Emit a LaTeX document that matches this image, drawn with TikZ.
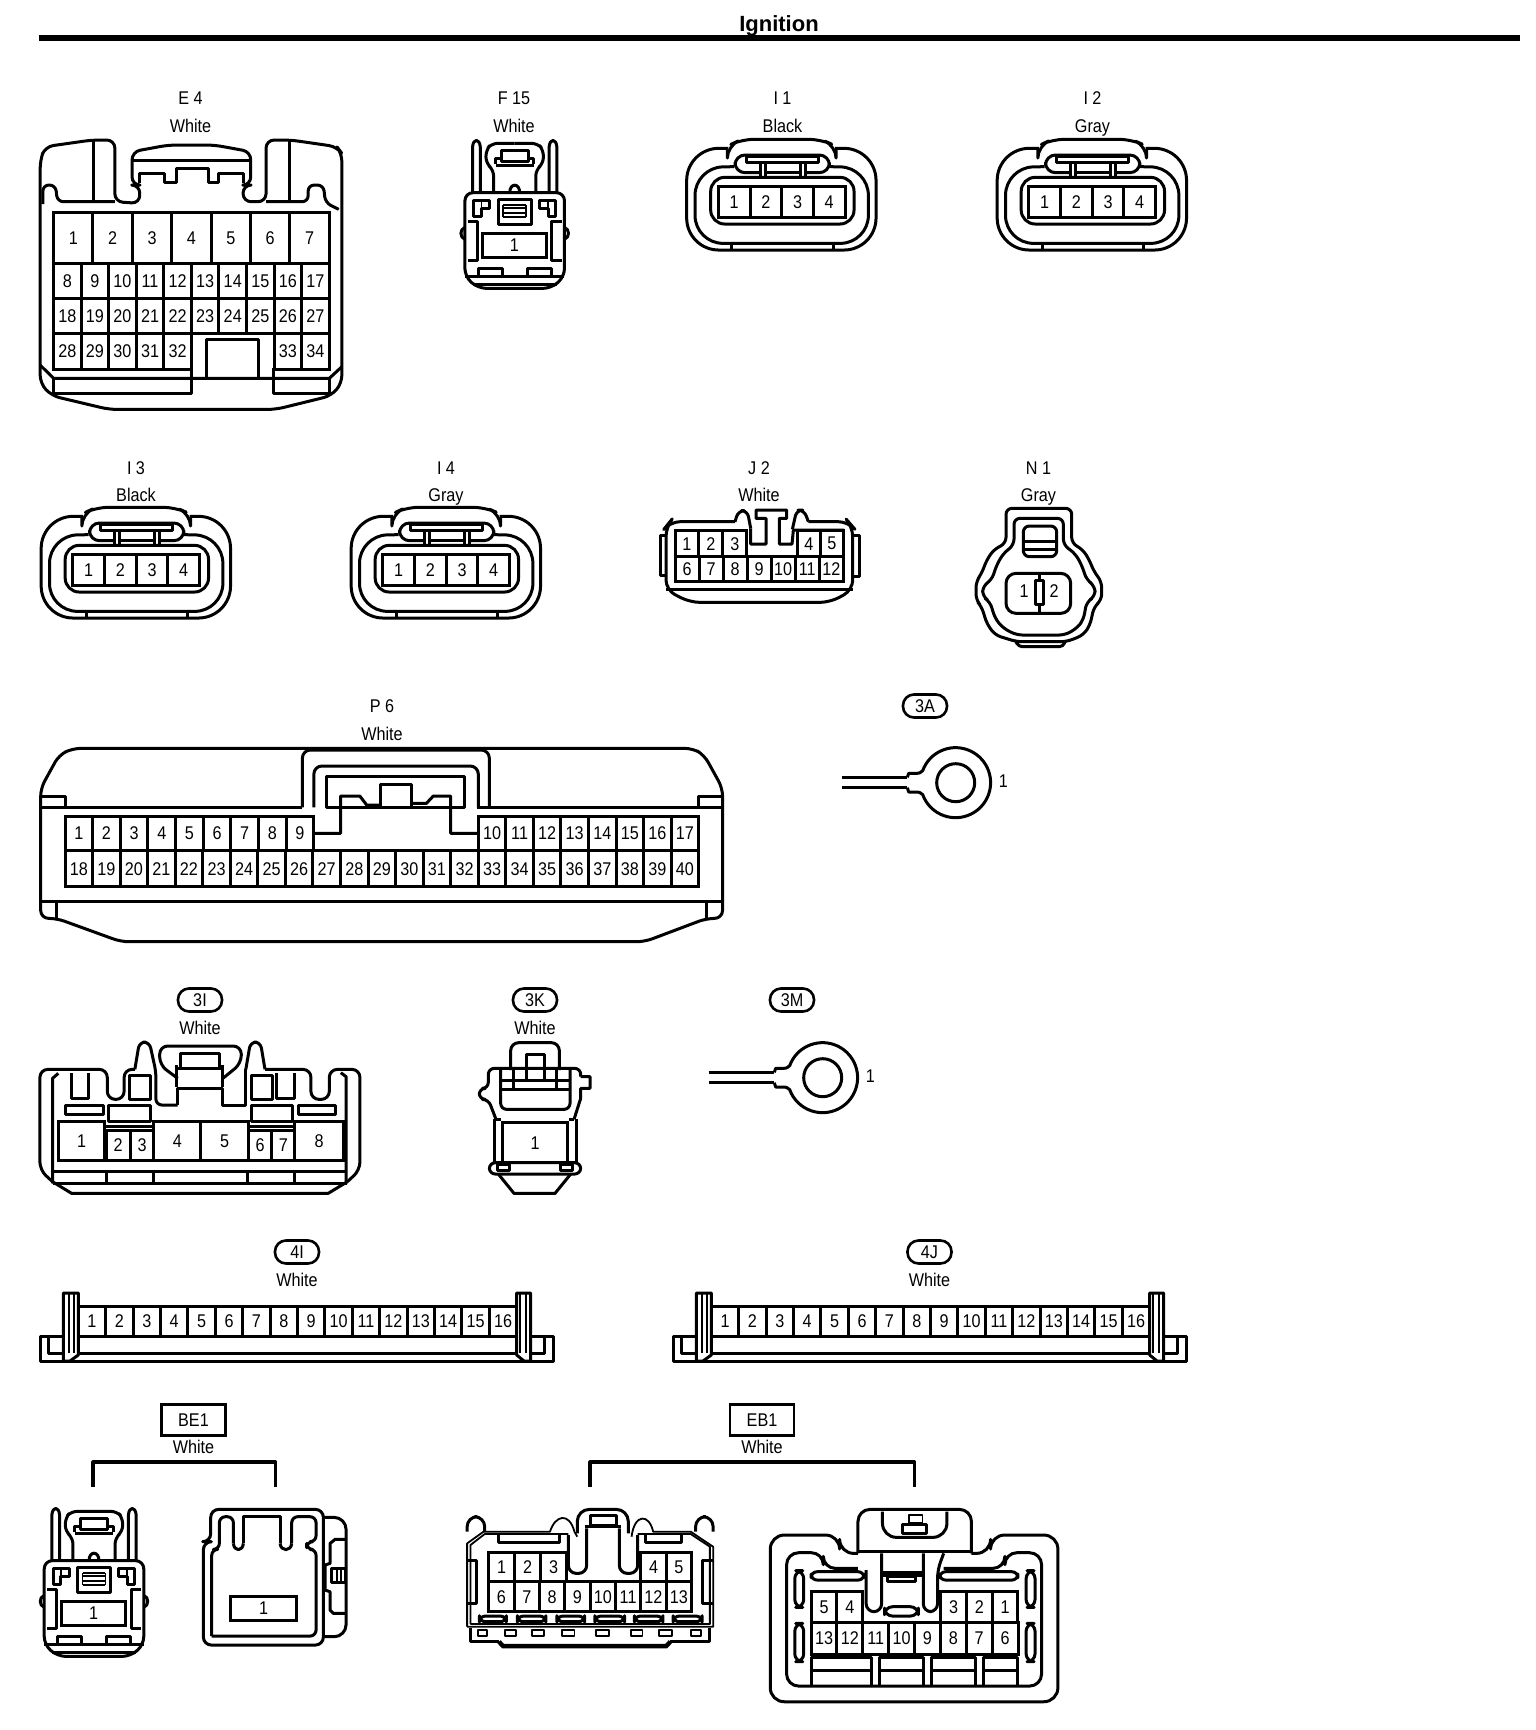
\documentclass[tikz,border=0pt]{standalone}
\usepackage{fontspec}
\setmainfont[FakeStretch=.88]{Liberation Sans}
\newfontfamily\titlefont{Liberation Sans}

\tikzset{
  wall/.style={line width=1.5pt,line join=round},
  fine/.style={line width=.9pt,line join=round},
  pinbox/.style={line width=1.5pt,line join=miter},
  pinnum/.style={inner sep=0pt,font=\fontsize{9.2}{10}\selectfont},
  tagtext/.style={inner sep=0pt,text height=6.6pt,text depth=0pt,font=\fontsize{9.2}{10}\selectfont},
  pilltag/.style={draw,line width=1.3pt,rounded corners=5.5pt,inner sep=0pt,minimum width=22pt,minimum height=11.5pt,font=\fontsize{9.2}{10}\selectfont},
  boxtag/.style={draw,line width=1.3pt,inner sep=0pt,minimum width=32pt,minimum height=15.5pt,font=\fontsize{9.2}{10}\selectfont},
  viewA/.style={x=.1914pt,y=-.1667pt},
  viewE/.style={x=.204pt,y=-.1667pt},
  viewP/.style={x=.2296pt,y=-.1667pt},
  viewT/.style={x=.1667pt,y=-.1667pt},
}

\newcommand{\pinrow}[6]{%
  \foreach \n [count=\i from 0] in {#6} {
    \draw[pinbox] ({#2+#5*\i},#3) rectangle ({#2+#5*(\i+1)},#4);
    \node[pinnum] (#1\n) at ({#2+#5*(\i+.5)},{(#3+#4)/2}) {\n};
  }}

\newcommand{\clipplug}[3]{%
  \begin{scope}[shift={(#1,#2)},viewA]
    \draw[wall,rounded corners=4pt] (-130,158)--(-130,410)--(-95,445)--(95,445)--(130,410)--(130,158)--cycle;
    \foreach \m in {1,-1} {
      \begin{scope}[xscale=\m]
        \draw[wall] (-110,158)--(-110,20) .. controls (-108,-5) and (-92,-5) .. (-90,20)--(-90,158);
        \draw[wall,rounded corners=3pt] (-55,158)--(-55,90)--(-75,70)--(-75,30)--(-60,10)--(0,10);
        \draw[wall] (0,30)--(-35,30)--(-35,65)--(0,65);
        \draw[wall] (-50,72)--(-50,55)--(-35,55);
        \draw[wall] (-50,75)--(0,75);
        \draw[wall] (0,178)--(-43,178)--(-43,252)--(0,252);
        \draw[fine] (-30,195)--(0,195) (-30,205)--(0,205) (-30,220)--(0,220) (-30,232)--(0,232) (-30,195)--(-30,232);
        \draw[wall] (-107,180)--(-65,180)--(-65,205)--(-87,205)--(-87,230)--(-107,230)--cycle;
        \draw[fine] (-87,185)--(-87,205);
        \draw[wall] (-123,245)--(-97,245)--(-97,360)--(-123,360);
        \draw[wall] (-130,262) .. controls (-144,268) and (-144,292) .. (-130,298);
        \draw[wall] (-95,408)--(-95,385)--(-33,385)--(-33,408);
        \draw[wall] (-110,432)--(0,432);
      \end{scope}
    }
    \draw[wall] (-13,158) .. controls (-13,128) and (13,128) .. (13,158);
    \draw[wall] (-130,408)--(130,408);
    \pinrow{#3}{-85}{280}{352}{168}{1}
  \end{scope}}

\newcommand{\fourplug}[3]{%
  \begin{scope}[shift={(#1,#2)},viewT]
    \draw[wall,rounded corners=16pt] (175,55)--(50,55)--(50,360)--(618,360)--(618,55)--(495,55);
    \draw[wall,rounded corners=6pt] (172,60)--(172,48)--(215,28)--(452,28)--(498,48)--(498,60);
    \draw[wall,rounded corners=14pt] (192,110)--(75,112)--(75,340)--(595,340)--(595,112)--(478,110);
    \draw[wall,rounded corners=5pt] (270,128)--(195,128)--(195,75)--(478,75)--(478,128)--(405,128);
    \draw[wall] (228,80)--(445,80)--(445,96)--(228,96)--cycle;
    \draw[wall] (270,96)--(270,142) (285,96)--(285,142) (390,96)--(390,142) (405,96)--(405,142);
    \draw[wall] (285,128)--(390,128);
    \draw[wall,rounded corners=7pt] (122,142) rectangle (552,282);
    \draw[wall] (185,340)--(185,360) (490,340)--(490,360);
    \pinrow{#3}{145}{170}{262}{95}{1,2,3,4}
  \end{scope}}

\newcommand{\ringlug}[3]{%
  \begin{scope}[shift={(#1,#2)},viewT]
    \draw[wall] (35,262)--(232,262) (35,293)--(232,293);
    \draw[wall] (232,262)--(236,250)--(258,250) .. controls (270,250) and (272,247) .. (278,242)
      arc (200:520:105) .. controls (272,309) and (270,306) .. (258,306)--(236,306)--(232,293);
    \draw[wall] (377,278) circle (57);
    \node[pinnum] (#3) at (520,272) {1};
  \end{scope}}

\newcommand{\stripconn}[3]{%
  \begin{scope}[shift={(#1,#2)},x=.5pt,y=-.5pt]
    \draw[wall] (0,43.3) rectangle (513,68.3);
    \draw[wall] (8.3,43.3)--(8.3,60)--(504,60)--(504,43.3);
    \draw[wall,fill=white] (23.3,68)--(23.3,0)--(38.3,0)--(38.3,62)--(30,68)--cycle;
    \draw[fine] (29.3,0)--(29.3,60) (34,0)--(34,60);
    \draw[wall,fill=white] (490.7,68)--(490.7,0)--(476.7,0)--(476.7,62)--(484,68)--cycle;
    \draw[fine] (479.6,0)--(479.6,60) (486,0)--(486,60);
    \draw[pinbox] (38.3,13.3)--(476.7,13.3);
    \pinrow{#3}{38.3}{13.3}{43.3}{27.4}{1,2,3,4,5,6,7,8,9,10,11,12,13,14,15,16}
  \end{scope}}

\newcommand{\conntag}[5]{%
  \node[tagtext] (#1) at (#2,#3) {#4};
  \node[tagtext] (#1c) at (#2,{#3+27.5}) {#5};}
\newcommand{\pillconn}[4]{%
  \node[pilltag] (#1) at (#2,#3) {#4};
  \node[tagtext] (#1c) at (#2,{#3+28}) {White};}

\begin{document}
\begin{tikzpicture}[x=.5pt,y=-.5pt]
  \fill[white] (0,0) rectangle (1536,1730);
  \useasboundingbox (0,0) rectangle (1536,1730);

  \node[inner sep=0pt,font=\titlefont\bfseries\fontsize{11}{12}\selectfont] (title) at (779,26) {Ignition};
  \coordinate (ruleL) at (39,38);
  \coordinate (ruleR) at (1520,38);
  \draw[line width=2.7pt] (ruleL) -- (ruleR);

  \conntag{tagE}{190.5}{98}{E 4}{White}
  \conntag{tagF}{514}{98}{F 15}{White}
  \conntag{tagIa}{782.5}{98}{I 1}{Black}
  \conntag{tagIb}{1092.5}{98}{I 2}{Gray}
  \conntag{tagIc}{136}{467.5}{I 3}{Black}
  \conntag{tagId}{446}{467.5}{I 4}{Gray}
  \conntag{tagJ}{759}{467.5}{J 2}{White}
  \conntag{tagN}{1038.5}{467.5}{N 1}{Gray}
  \conntag{tagP}{382}{706}{P 6}{White}

  \node[pilltag] (pillA) at (925,706) {3A};
  \pillconn{pillI}{200}{1000}{3I}
  \pillconn{pillK}{535}{1000}{3K}
  \node[pilltag] (pillM) at (792,1000) {3M};
  \pillconn{pillIv}{297}{1252}{4I}
  \pillconn{pillJv}{929.5}{1252}{4J}

  \node[boxtag] (boxB) at (193.5,1420) {BE1};
  \node[tagtext] (boxBc) at (193.5,1447) {White};
  \node[boxtag] (boxE) at (762,1420) {EB1};
  \node[tagtext] (boxEc) at (762,1447) {White};
  \coordinate (brBa) at (93,1487);
  \coordinate (brBb) at (275.5,1487);
  \coordinate (brEa) at (590,1487);
  \coordinate (brEb) at (914.5,1487);
  \draw[wall,line width=1.6pt] (brBa) |- (184,1462) -| (brBb);
  \draw[wall,line width=1.6pt] (brEa) |- (750,1462) -| (brEb);

  % E4
  \begin{scope}[viewA]
    \draw[wall,rounded corners=4pt] (105,480)--(105,1150)--(135,1187)--(285,1228)--(720,1228)--(865,1187)--(893,1150)--(893,460)--(880,440)--(760,420)--(695,420)--(695,605)--(635,605)--(635,555)--(655,555)--(655,455)--(560,435)--(440,435)--(345,455)--(345,555)--(365,555)--(365,610)--(300,605)--(300,420)--(240,420)--(118,440)--cycle;
    \draw[wall] (243,420)--(243,605) (757,420)--(757,600);
    \draw[wall,rounded corners=3pt] (112,612)--(112,555)--(145,555)--(150,605)--(300,605);
    \draw[wall,rounded corners=3pt] (695,605)--(805,605)--(805,555)--(845,555)--(850,608)--(885,628);
    \draw[wall] (345,480)--(655,480);
    \draw[wall] (365,550)--(365,520)--(430,520)--(430,548)--(460,548)--(460,505)--(545,505)--(545,548)--(570,548)--(570,520)--(635,520)--(635,550);
    \draw[wall] (105,1095)--(140,1135)--(860,1135)--(893,1100);
    \draw[wall] (140,1135)--(140,1180)--(500,1180)--(500,1105);
    \draw[wall] (715,1105)--(715,1180)--(860,1180)--(860,1135);
    \draw[wall] (540,1135)--(540,1018)--(675,1018)--(675,1135);
    \pinrow{e}{140}{638}{790}{102.86}{1,2,3,4,5,6,7}
    \pinrow{e}{140}{790}{895}{72}{8,9,10,11,12,13,14,15,16,17}
    \pinrow{e}{140}{895}{1000}{72}{18,19,20,21,22,23,24,25,26,27}
    \pinrow{e}{140}{1000}{1107}{72}{28,29,30,31,32}
    \pinrow{e}{716}{1000}{1107}{72}{33,34}
  \end{scope}

  \clipplug{514.7}{140}{f}
  \fourplug{670}{130}{ia}
  \fourplug{980.5}{130}{ib}
  \fourplug{24.5}{498}{ic}
  \fourplug{334.5}{498}{id}

  % J2
  \begin{scope}[shift={(660,440)},viewT]
    \draw[wall,rounded corners=5pt] (225,245)--(30,245)--(18,260)--(18,450)--(90,487)--(510,487)--(578,450)--(578,260)--(565,245)--(445,245);
    \draw[wall,rounded corners=3pt] (225,245)--(235,212)--(262,212)--(272,265);
    \draw[wall,rounded corners=3pt] (445,245)--(432,210)--(410,210)--(397,268);
    \draw[wall] (272,265)--(272,312)--(318,312)--(318,235)--(288,235)--(288,210)--(380,210)--(380,235)--(358,235)--(358,312)--(396,312)--(400,270)--(552,270);
    \draw[wall] (15,285)--(0,285)--(0,405)--(15,405);
    \draw[wall] (580,285)--(597,285)--(597,408)--(580,408);
    \draw[wall] (18,447)--(578,447);
    \pinrow{j}{45}{272}{350}{71.7}{1,2,3}
    \pinrow{j}{412}{272}{350}{69}{4,5}
    \pinrow{j}{45}{350}{425}{72.14}{6,7,8,9,10,11,12}
  \end{scope}

  % N1
  \begin{scope}[shift={(970,500)},viewT]
    \draw[wall,rounded corners=3pt] (108,25)--(305,25)--(305,130)--(338,148)--(358,180)--(372,215)--(395,245)--(395,300)--(372,320)--(360,375)--(340,405)--(290,425)--(140,425)--(75,405)--(50,370)--(35,320)--(18,300)--(18,245)--(35,220)--(50,180)--(72,148)--(108,130)--cycle;
    \draw[wall,rounded corners=3pt] (132,55)--(280,55)--(280,135)--(315,160)--(335,195)--(350,240)--(375,258)--(375,290)--(350,305)--(340,360)--(320,385)--(285,405)--(140,405)--(100,385)--(75,355)--(60,305)--(38,290)--(38,258)--(65,240)--(80,195)--(100,160)--(132,135)--cycle;
    \draw[wall,rounded corners=3pt] (160,170)--(160,78)--(260,78)--(260,170)--cycle;
    \draw[wall] (160,125)--(260,125) (160,147)--(260,147);
    \draw[wall,rounded corners=2pt] (138,425)--(145,440)--(280,440)--(285,425);
    \draw[wall,rounded corners=5pt] (108,220) rectangle (302,340);
    \draw[wall] (197,240) rectangle (220,312);
    \draw[wall] (208,220)--(208,240) (208,312)--(208,340);
    \node[pinnum] (na) at (162,272) {1};
    \node[pinnum] (nb) at (252,272) {2};
  \end{scope}

  % P6
  \begin{scope}[shift={(20,690)},viewP]
    \draw[wall,rounded corners=4pt] (45,295)--(85,195)--(115,175)--(1465,175)--(1490,195)--(1530,295)--(1530,685)--(1495,685)--(1360,755)--(220,755)--(80,685)--(45,685)--cycle;
    \draw[wall] (45,318)--(98,318)--(98,352) (1530,318)--(1478,318)--(1478,352);
    \draw[wall] (45,352)--(615,352) (995,352)--(1530,352);
    \draw[wall,rounded corners=4pt] (615,352)--(615,180)--(1022,180)--(1022,352);
    \draw[wall,rounded corners=4pt] (640,352)--(640,228)--(998,228)--(998,352);
    \draw[wall] (668,260) rectangle (968,352);
    \draw[wall] (640,430)--(698,430)--(698,318)--(740,318)--(755,345)--(785,345);
    \draw[wall] (785,350)--(785,283)--(852,283)--(852,350);
    \draw[wall] (852,340)--(885,340)--(900,318)--(938,318)--(938,430)--(998,430);
    \draw[wall] (45,635)--(1530,635) (80,635)--(80,685) (1495,635)--(1495,685);
    \pinrow{p}{98}{378}{482}{60.2}{1,2,3,4,5,6,7,8,9}
    \pinrow{p}{998}{378}{482}{60}{10,11,12,13,14,15,16,17}
    \pinrow{p}{98}{482}{590}{60}{18,19,20,21,22,23,24,25,26,27,28,29,30,31,32,33,34,35,36,37,38,39,40}
  \end{scope}

  \ringlug{830}{690}{ringA}
  \ringlug{697}{985}{ringM}

  % 3I
  \begin{scope}[shift={(20,980)},viewA]
    \draw[wall,rounded corners=4pt] (85,605)--(52,570)--(52,268)--(228,268)--(228,358)--(272,358)--(272,268)--(300,268);
    \draw[wall,rounded corners=3pt] (300,268)--(312,186)--(338,186)--(355,275)--(355,375)--(412,375);
    \draw[wall] (412,375)--(412,325)--(530,325)--(530,375)--(590,375)--(590,268);
    \draw[wall,rounded corners=3pt] (590,268)--(602,186)--(628,186)--(640,268);
    \draw[wall,rounded corners=4pt] (640,268)--(760,268)--(760,358)--(808,358)--(808,268)--(888,268)--(888,570)--(855,605);
    \draw[wall] (85,610)--(85,295)--(100,280) (852,610)--(852,290)--(838,278);
    \draw[wall] (85,575)--(855,575) (85,610)--(855,610);
    \draw[wall] (85,605)--(135,640)--(805,640)--(855,605);
    \draw[wall] (225,575)--(225,610) (350,575)--(350,610) (595,575)--(595,610) (718,575)--(718,610);
    \draw[wall] (135,280)--(135,355)--(180,355)--(180,280);
    \draw[wall] (285,285) rectangle (340,358) (605,285) rectangle (660,358);
    \draw[wall] (670,280)--(670,355)--(718,355)--(718,280);
    \draw[wall] (120,375) rectangle (218,402) (232,375) rectangle (340,425);
    \draw[wall] (605,375) rectangle (712,425) (728,375) rectangle (825,402);
    \draw[wall,rounded corners=4pt] (412,295)--(365,255)--(365,198)--(578,198)--(578,250)--(530,295);
    \draw[wall] (420,265)--(420,220)--(522,220)--(522,265);
    \draw[wall] (408,320)--(408,255) (530,320)--(530,255) (408,266)--(530,266);
    \draw[wall] (222,440)--(350,440) (597,440)--(718,440);
    \pinrow{ci}{100}{425}{540}{122}{1}
    \pinrow{ci}{225}{452}{540}{62.5}{2,3}
    \pinrow{ci}{350}{425}{540}{122}{4}
    \pinrow{ci}{472}{425}{540}{125}{5}
    \pinrow{ci}{597}{452}{540}{60.5}{6,7}
    \pinrow{ci}{718}{425}{540}{127}{8}
  \end{scope}

  % 3K
  \begin{scope}[shift={(470,1030)},viewT]
    \draw[wall,rounded corners=4pt] (122,120)--(122,38)--(268,38)--(268,120);
    \draw[wall] (168,152)--(168,72)--(222,72)--(222,152);
    \draw[wall,rounded corners=3pt] (78,268)--(55,208)--(28,208)--(28,175)--(55,175)--(55,115)--(332,115)--(332,140);
    \draw[wall] (332,140)--(360,140)--(360,175)--(332,175)--(332,205)--(312,268);
    \draw[wall,rounded corners=3pt] (92,118)--(92,238)--(300,238)--(300,118);
    \draw[wall] (92,150)--(300,150) (92,177)--(300,177) (130,118)--(130,177) (260,118)--(260,177);
    \draw[wall] (78,268)--(92,268) (298,268)--(312,268);
    \draw[wall] (72,268)--(72,398) (318,268)--(318,398);
    \draw[wall,rounded corners=3pt] (58,398) rectangle (332,432);
    \draw[wall] (82,402) rectangle (118,420) (272,402) rectangle (308,420);
    \draw[wall] (85,432)--(132,490)--(255,490)--(302,432);
    \pinrow{ck}{98}{278}{398}{194}{1}
  \end{scope}

  \stripconn{40}{1293}{vi}
  \stripconn{673}{1293}{vj}

  \clipplug{94}{1508}{ba}

  % BE1 right half
  \begin{scope}[shift={(20,1400)},viewT]
    \draw[wall,rounded corners=4pt] (572,425)--(550,425)--(550,735)--(910,735)--(910,328)--(572,328)--cycle;
    \draw[wall,rounded corners=3pt] (575,708)--(888,708)--(888,448)--(860,448)--(860,425)--(888,425)--(888,350)--(815,350)--(815,430);
    \draw[wall,rounded corners=3pt] (575,708)--(575,448)--(598,448)--(598,350)--(640,350)--(640,430);
    \draw[wall] (640,430) .. controls (642,455) and (668,455) .. (670,430);
    \draw[wall] (670,430)--(670,350)--(780,350)--(780,430);
    \draw[wall] (780,430) .. controls (782,455) and (813,455) .. (815,430);
    \draw[wall,rounded corners=6pt] (910,352)--(978,352)--(978,710)--(910,710);
    \draw[wall] (978,418)--(945,418)--(930,430)--(930,490)--(915,495)--(915,570)--(930,575)--(930,630)--(940,640)--(978,640);
    \draw[wall] (935,505) rectangle (975,548);
    \draw[fine] (950,510)--(950,545) (962,510)--(962,545);
    \pinrow{bb}{632}{588}{662}{198}{1}
  \end{scope}

  % EB1 both halves
  \begin{scope}[shift={(450,1400)},viewE]
    \draw[wall,rounded corners=5pt] (42,395)--(42,350)--(85,350)--(85,395);
    \draw[wall,rounded corners=5pt] (602,395)--(602,350)--(645,350)--(645,395);
    \draw[fine] (42,680)--(42,430)--(82,395)--(245,395) .. controls (258,345) and (292,335) .. (305,395)--(312,410);
    \draw[fine] (50,672)--(50,435)--(85,402)--(290,402);
    \draw[fine] (50,672)--(637,672)--(637,440)--(590,402)--(460,402);
    \draw[fine] (42,680)--(645,680)--(645,440)--(590,395)--(498,395) .. controls (488,340) and (452,340) .. (445,410);
    \draw[wall] (120,402)--(120,428)--(268,428)--(268,402) (478,402)--(478,428)--(568,428)--(568,402);
    \draw[wall] (42,480)--(65,480)--(65,610)--(42,610) (645,480)--(620,480)--(620,610)--(645,610);
    \draw[wall,rounded corners=6pt] (312,400)--(312,328)--(437,328)--(437,400);
    \draw[wall] (345,345) rectangle (408,375) (330,380)--(420,380);
    \draw[wall,rounded corners=4pt] (290,405)--(290,520)--(335,520)--(335,385);
    \draw[wall,rounded corners=4pt] (415,385)--(415,520)--(460,520)--(460,405);
    \foreach \a/\b in {72/138,165/235,262/330,355/428,452/522,547/618}
      \draw[wall,rounded corners=3pt] (\a,648) rectangle (\b,665);
    \draw[wall] (50,685)--(50,725)--(120,725);
    \draw[wall] (635,685)--(635,725)--(540,725);
    \draw[line width=2.2pt] (120,725)--(130,738)--(530,738)--(540,725);
    \foreach \a/\b in {68/90,135/162,200/230,275/305,358/390,443/472,512/545,590/615}
      \draw[fine] (\a,690) rectangle (\b,708);
    \pinrow{ea}{95}{457}{545}{63.5}{1,2,3}
    \pinrow{ea}{468}{457}{545}{62}{4,5}
    \pinrow{ea}{95}{545}{635}{62.1}{6,7,8,9,10,11,12,13}

    \draw[wall,rounded corners=7pt] (1000,460)--(955,460)--(955,405)--(785,405)--(785,905)--(1490,905)--(1490,405)--(1325,405)--(1325,460)--(1278,460);
    \draw[wall,rounded corners=6pt] (1000,460)--(1000,328)--(1278,328)--(1278,460);
    \draw[wall] (1000,455)--(1278,455);
    \draw[wall,rounded corners=7pt] (1060,335)--(1060,412)--(1218,412)--(1218,335);
    \draw[fine] (1125,345) rectangle (1158,370);
    \draw[wall] (1110,372) rectangle (1168,400);
    \draw[wall,rounded corners=6pt] (1000,505)--(915,505)--(915,458)--(825,458)--(825,858)--(1450,858)--(1450,458)--(1360,458)--(1360,505)--(1210,505);
    \draw[wall,rounded corners=3pt] (885,515) rectangle (1015,540) (1200,515) rectangle (1392,540);
    \draw[wall,rounded corners=4pt] (1020,510)--(1020,635)--(1058,635)--(1058,460);
    \draw[wall,rounded corners=4pt] (1160,460)--(1160,635)--(1195,635)--(1195,510)--(1210,460);
    \draw[wall] (1058,517)--(1160,517) (1058,526)--(1160,526) (1072,530) rectangle (1140,545);
    \draw[wall,rounded corners=4pt] (1065,620) rectangle (1148,648);
    \foreach \a/\c/\d in {845/512/622,845/670/785,1412/512/622,1412/670/785}
      \draw[wall,rounded corners=4pt] (\a,\c) rectangle ({\a+22},\d);
    \pinrow{eb}{885}{575}{668}{63.5}{5,4}
    \pinrow{eb}{1203}{575}{668}{63}{3,2,1}
    \pinrow{eb}{885}{668}{762}{63.4}{13,12,11,10,9,8,7,6}
    \draw[wall] (885,858)--(885,772)--(1032,772)--(1032,858) (885,812)--(1032,812);
    \draw[wall] (1052,858)--(1052,772)--(1160,772)--(1160,858) (1052,812)--(1160,812);
    \draw[wall] (1180,858)--(1180,772)--(1288,772)--(1288,858) (1180,812)--(1288,812);
    \draw[wall] (1308,858)--(1308,772)--(1392,772)--(1392,858) (1308,812)--(1392,812);
  \end{scope}
\end{tikzpicture}
\end{document}
